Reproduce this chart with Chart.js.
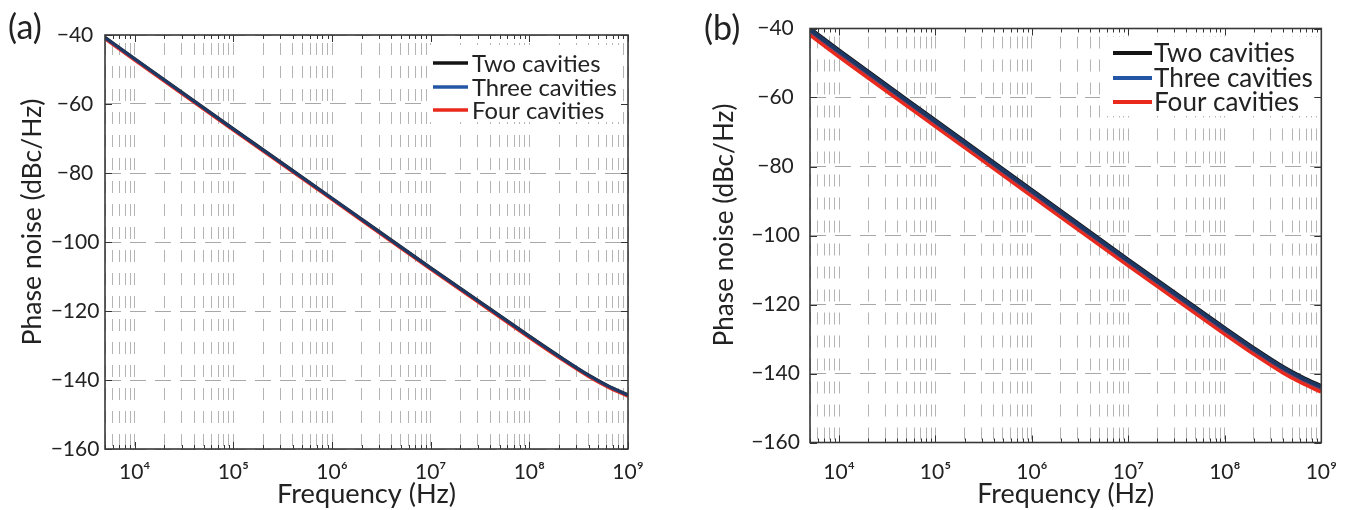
<!DOCTYPE html>
<html>
<head>
<meta charset="utf-8">
<script src="https://cdn.jsdelivr.net/npm/chart.js@4.4.1/dist/chart.umd.min.js"></script>
<style>
  html, body { margin: 0; padding: 0; background: #ffffff; }
  #wrap { position: relative; width: 1354px; height: 510px; overflow: hidden; background: #fff; }
  .panel { position: absolute; top: 0; width: 677px; height: 510px; }
  #pa { left: 0; }
  #pb { left: 677px; }
</style>
</head>
<body>
<div id="wrap">
  <div class="panel" id="pa"><canvas id="ca" width="677" height="510"></canvas></div>
  <div class="panel" id="pb"><canvas id="cb" width="677" height="510"></canvas></div>
</div>
<script>
// ---------------- data ----------------
const frequencyHz = [5e3, 1e4, 1e5, 1e6, 1e7, 1e8, 2e8, 4e8, 6.3e8, 1e9];

// panel (a)
const aTwoCavities   = [-40.7, -46.9, -67.2, -87.3, -107.5, -127.3, -133.1, -138.6, -141.7, -144.3];
const aThreeCavities = [-40.8, -47.0, -67.3, -87.4, -107.6, -127.4, -133.2, -138.7, -141.8, -144.4];
const aFourCavities  = [-41.1, -47.3, -67.6, -87.7, -107.9, -127.7, -133.5, -139.0, -142.1, -144.7];

// panel (b)
const bTwoCavities   = [-40.2, -46.5, -66.8, -87.0, -107.2, -127.0, -132.8, -138.2, -141.2, -143.8];
const bThreeCavities = [-40.5, -46.8, -67.1, -87.3, -107.5, -127.3, -133.1, -138.5, -141.5, -144.1];
const bFourCavities  = [-41.7, -48.0, -68.2, -88.4, -108.6, -128.4, -134.2, -139.6, -142.6, -145.2];

const seriesNames = ['Two cavities', 'Three cavities', 'Four cavities'];
const seriesColors = ['#141414', '#2456a6', '#e8291c'];

const xMin = 5e3, xMax = 1e9;
const yMin = -160, yMax = -40, yStep = 20;
const xTickExponents = [4, 5, 6, 7, 8, 9];
const xTickLabels = ['10⁴', '10⁵', '10⁶', '10⁷', '10⁸', '10⁹'];
const panelTags = ['(a)', '(b)'];
const xAxisTitle = 'Frequency (Hz)';
const yAxisTitle = 'Phase noise (dBc/Hz)';

// ---------------- helpers ----------------
const FONT = "Lato, 'DejaVu Sans', sans-serif";
const TEXT = '#222222';

function isPow10(v) {
  const l = Math.log10(v);
  return Math.abs(l - Math.round(l)) < 1e-9;
}
function expOf(v) { return Math.round(Math.log10(v)); }

// all minor/major positions m*10^e inside the range
const xGridValues = [];
for (let e = 3; e <= 9; e++) {
  for (let m = 1; m <= 9; m++) {
    const v = m * Math.pow(10, e);
    if (v >= xMin * 0.9999 && v <= xMax * 1.0001) xGridValues.push(v);
  }
}

const measureCtx = document.createElement('canvas').getContext('2d');
function textWidth(text, size) {
  measureCtx.font = size + 'px ' + FONT;
  return measureCtx.measureText(text).width;
}
function fitSize(text, target) {
  return 100 * target / textWidth(text, 100);
}

// ---------------- decoration plugin ----------------
const decor = {
  id: 'decor',
  afterDatasetsDraw(chart, args, o) {
    const ctx = chart.ctx;
    const a = chart.chartArea;
    const xs = chart.scales.x, ys = chart.scales.y;
    ctx.save();

    // legend (white background, no frame)
    ctx.fillStyle = '#ffffff';
    ctx.fillRect(o.legBox[0], o.legBox[1], o.legBox[2] - o.legBox[0], o.legBox[3] - o.legBox[1]);
    const legSize = fitSize('Three cavities', o.legTextWidth);
    ctx.font = legSize + 'px ' + FONT;
    ctx.textAlign = 'left';
    ctx.textBaseline = 'middle';
    seriesNames.forEach((name, i) => {
      const yy = o.legRows[i];
      ctx.strokeStyle = seriesColors[i];
      ctx.lineWidth = o.legLineWidth;
      ctx.beginPath();
      ctx.moveTo(o.legLineX[0], yy);
      ctx.lineTo(o.legLineX[1], yy);
      ctx.stroke();
      ctx.fillStyle = TEXT;
      ctx.fillText(name, o.legTextX, yy + 1);
    });

    // inward tick marks
    ctx.strokeStyle = '#333333';
    ctx.lineWidth = 1;
    xs.ticks.forEach(t => {
      const px = Math.round(xs.getPixelForValue(t.value)) + 0.5;
      const L = isPow10(t.value) ? 7 : 4;
      ctx.beginPath();
      ctx.moveTo(px, a.bottom); ctx.lineTo(px, a.bottom - L);
      ctx.moveTo(px, a.top); ctx.lineTo(px, a.top + L);
      ctx.stroke();
    });
    ys.ticks.forEach(t => {
      const py = Math.round(ys.getPixelForValue(t.value)) + 0.5;
      ctx.beginPath();
      ctx.moveTo(a.left, py); ctx.lineTo(a.left + 7, py);
      ctx.moveTo(a.right, py); ctx.lineTo(a.right - 7, py);
      ctx.stroke();
    });

    // axes box
    ctx.strokeStyle = '#383838';
    ctx.lineWidth = 1.6;
    ctx.strokeRect(a.left, a.top, a.right - a.left, a.bottom - a.top);

    // panel tag
    ctx.fillStyle = TEXT;
    ctx.textAlign = 'left';
    ctx.textBaseline = 'alphabetic';
    ctx.font = o.tagSize + 'px ' + FONT;
    ctx.fillText(o.tag, o.tagX, o.tagBaseline);

    // x axis title
    const xs2 = fitSize(xAxisTitle, o.xTitleWidth);
    ctx.font = xs2 + 'px ' + FONT;
    ctx.textAlign = 'center';
    ctx.fillText(xAxisTitle, (a.left + a.right) / 2, o.xTitleBaseline);

    // y axis title
    const ys2 = fitSize(yAxisTitle, o.yTitleWidth);
    ctx.font = ys2 + 'px ' + FONT;
    ctx.translate(o.yTitleBaselineX, o.yTitleCenterY);
    ctx.rotate(-Math.PI / 2);
    ctx.textAlign = 'center';
    ctx.textBaseline = 'alphabetic';
    ctx.fillText(yAxisTitle, 0, 0);

    ctx.restore();
  }
};

// ---------------- chart builder ----------------
function buildChart(canvasId, series, widths, alphaBlue, g) {
  const tickFont = { family: FONT, size: g.tickSize };
  const widest = textWidth('−160', g.tickSize);
  const yPad = (g.left - g.yLabelCenter) - widest / 2;
  const colors = [seriesColors[0], alphaBlue, seriesColors[2]];
  // draw order: Four at bottom, Two, then Three on top
  const orders = [1, 0, 2];
  const datasets = series.map((vals, i) => ({
    label: seriesNames[i],
    data: frequencyHz.map((f, k) => ({ x: f, y: vals[k] })),
    borderColor: colors[i],
    backgroundColor: colors[i],
    borderWidth: widths[i],
    pointRadius: 0,
    fill: false,
    cubicInterpolationMode: 'monotone',
    order: orders[i]
  }));

  return new Chart(document.getElementById(canvasId), {
    type: 'line',
    data: { datasets },
    plugins: [decor],
    options: {
      responsive: false,
      animation: false,
      devicePixelRatio: 1,
      layout: { padding: { left: 0, top: g.top, right: 677 - g.right, bottom: 0 } },
      plugins: {
        legend: { display: false },
        tooltip: { enabled: false },
        decor: g.decor
      },
      scales: {
        x: {
          type: 'logarithmic',
          min: xMin,
          max: xMax,
          afterBuildTicks: (s) => { s.ticks = xGridValues.map(v => ({ value: v })); },
          afterFit: (s) => { s.height = 510 - g.bottom; },
          grid: { color: '#b4b4b4', lineWidth: 1, drawTicks: false },
          border: { display: false, dash: [12, 11], dashOffset: 15 },
          ticks: {
            autoSkip: false,
            maxRotation: 0,
            minRotation: 0,
            padding: g.xTickPad,
            color: TEXT,
            font: tickFont,
            callback: (v) => {
              if (!isPow10(v)) return '';
              const idx = xTickExponents.indexOf(expOf(v));
              return idx >= 0 ? xTickLabels[idx] : '';
            }
          }
        },
        y: {
          type: 'linear',
          min: yMin,
          max: yMax,
          afterFit: (s) => { s.width = g.left; },
          grid: { color: '#a8a8a8', lineWidth: 1, drawTicks: false },
          border: { display: false, dash: [16, 9] },
          ticks: {
            stepSize: yStep,
            crossAlign: 'center',
            padding: yPad,
            color: TEXT,
            font: tickFont,
            callback: (v) => (v < 0 ? '−' + Math.abs(v) : String(v))
          }
        }
      }
    }
  });
}

buildChart('ca', [aTwoCavities, aThreeCavities, aFourCavities], [3.2, 3.2, 3.2], 'rgba(36,86,166,0.55)', {
  left: 105, right: 628, top: 35, bottom: 449,
  tickSize: 21, yLabelCenter: 75, xTickPad: 11,
  decor: {
    tag: panelTags[0], tagX: 8, tagBaseline: 39, tagSize: 34,
    xTitleBaseline: 503, xTitleWidth: 179,
    yTitleBaselineX: 41, yTitleCenterY: 222, yTitleWidth: 247,
    legBox: [428, 45, 622, 122], legRows: [63, 87, 110],
    legLineX: [433, 468], legTextX: 472, legTextWidth: 145, legLineWidth: 3.5
  }
});

buildChart('cb', [bTwoCavities, bThreeCavities, bFourCavities], [4.8, 4.8, 4.8], 'rgba(36,86,166,0.55)', {
  left: 133, right: 656, top: 28.5, bottom: 442.5,
  tickSize: 21, yLabelCenter: 98.5, xTickPad: 17,
  decor: {
    tag: panelTags[1], tagX: 27, tagBaseline: 40, tagSize: 34,
    xTitleBaseline: 503, xTitleWidth: 177,
    yTitleBaselineX: 56, yTitleCenterY: 225, yTitleWidth: 243,
    legBox: [423, 37, 641, 116], legRows: [53, 78, 102],
    legLineX: [436, 475], legTextX: 477, legTextWidth: 159, legLineWidth: 3.8
  }
});
</script>
</body>
</html>
